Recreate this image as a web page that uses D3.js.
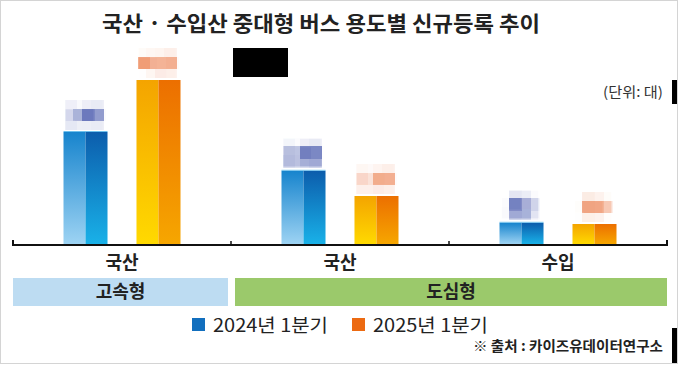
<!DOCTYPE html>
<html>
<head>
<meta charset="utf-8">
<script src="https://cdn.jsdelivr.net/npm/d3@7"></script>
<style>
  body { margin: 0; background: #fff; }
  svg { display: block; font-family: "Noto Sans CJK KR", "Noto Sans", sans-serif; }
</style>
</head>
<body>
<script>
// chart data
var categories = ["고속형-국산", "도심형-국산", "도심형-수입"];
var categoryLabels = ["국산", "국산", "수입"];
var segments = ["고속형", "도심형"];
var segmentFirst = ["고속형-국산", "도심형-국산"];
var segmentLast = ["고속형-국산", "도심형-수입"];
var seriesNames = ["2024년 1분기", "2025년 1분기"];
var values2024 = [280, 183, 53];
var values2025 = [410, 120, 50];

var w = 680;
var h = 365;

var svg = d3.select("body")
            .append("svg")
            .attr("width", w)
            .attr("height", h);

var defs = svg.append("defs");

function gradient(id, top, bottom) {
  var g = defs.append("linearGradient")
    .attr("id", id)
    .attr("x1", 0).attr("y1", 0)
    .attr("x2", 0).attr("y2", 1);
  g.append("stop").attr("offset", "0%").attr("stop-color", top);
  g.append("stop").attr("offset", "100%").attr("stop-color", bottom);
}
gradient("blueL", "#1784cd", "#9dd3f3");
gradient("blueR", "#0c5dac", "#19b1e8");
gradient("orangeL", "#f4a400", "#ffd900");
gradient("orangeR", "#ec6f00", "#f6a600");

// mosaic effect for the value labels (10px cells)
var pix = defs.append("filter")
  .attr("id", "pixelate")
  .attr("filterUnits", "userSpaceOnUse")
  .attr("primitiveUnits", "userSpaceOnUse")
  .attr("x", -20).attr("y", -15).attr("width", 40).attr("height", 30);
pix.append("feGaussianBlur").attr("in", "SourceGraphic").attr("stdDeviation", 2.2).attr("result", "b");
pix.append("feFlood").attr("x", -16).attr("y", -11).attr("width", 2).attr("height", 2).attr("flood-color", "#000");
pix.append("feComposite").attr("x", -20).attr("y", -15).attr("width", 10).attr("height", 10);
pix.append("feTile").attr("result", "a");
pix.append("feComposite").attr("in", "b").attr("in2", "a").attr("operator", "in");
pix.append("feMorphology").attr("operator", "dilate").attr("radius", 5).attr("result", "m");
var ct = pix.append("feComponentTransfer").attr("in", "m");
ct.append("feFuncA").attr("type", "linear").attr("slope", 1.5);

var series = [
  { name: seriesNames[0], values: values2024, left: "url(#blueL)", right: "url(#blueR)", swatch: "#126fbe", label: "#5868b4" },
  { name: seriesNames[1], values: values2025, left: "url(#orangeL)", right: "url(#orangeR)", swatch: "#ec6a12", label: "#ec8658" }
];

var x0 = d3.scaleBand()
  .domain(categories)
  .range([13, 667]);

var x1 = d3.scaleBand()
  .domain(seriesNames)
  .range([x0.bandwidth() / 2 - 58.5, x0.bandwidth() / 2 + 58.5])
  .paddingInner(0.397);

var y = d3.scaleLinear()
  .domain([0, 500])
  .range([244, 44]);

// frame
svg.append("rect")
  .attr("x", 0.5).attr("y", 0.5)
  .attr("width", 677).attr("height", 363)
  .attr("fill", "none")
  .attr("stroke", "#d4d4d4");

// title
svg.append("text")
  .attr("x", 321)
  .attr("y", 31)
  .attr("text-anchor", "middle")
  .attr("font-size", "21px")
  .attr("font-weight", 700)
  .attr("fill", "#222")
  .attr("textLength", 438)
  .attr("lengthAdjust", "spacingAndGlyphs")
  .text("국산 · 수입산 중대형 버스 용도별 신규등록 추이");

svg.append("rect")
  .attr("x", 233).attr("y", 48)
  .attr("width", 55).attr("height", 29)
  .attr("fill", "#000");

svg.append("text")
  .attr("x", 663)
  .attr("y", 97)
  .attr("text-anchor", "end")
  .attr("font-size", "14px")
  .attr("fill", "#333")
  .attr("textLength", 60)
  .attr("lengthAdjust", "spacingAndGlyphs")
  .text("(단위: 대)");

svg.append("rect").attr("x", 672).attr("y", 80).attr("width", 5).attr("height", 24).attr("fill", "#000");
svg.append("rect").attr("x", 672).attr("y", 328).attr("width", 5).attr("height", 35).attr("fill", "#000");

// bars
var groups = svg.selectAll("g.cat")
  .data(categories)
  .enter()
  .append("g")
  .attr("class", "cat")
  .attr("transform", function(d) { return "translate(" + x0(d) + ",0)"; });

groups.each(function(c, ci) {
  var g = d3.select(this);
  series.forEach(function(s) {
    var v = s.values[ci];
    var bx = x1(s.name);
    var bw = x1.bandwidth();
    g.append("rect")
      .attr("x", bx).attr("y", y(v))
      .attr("width", bw / 2).attr("height", y(0) - y(v))
      .attr("fill", s.left);
    g.append("rect")
      .attr("x", bx + bw / 2).attr("y", y(v))
      .attr("width", bw / 2).attr("height", y(0) - y(v))
      .attr("fill", s.right);
    if (s === series[0]) {
      g.append("rect")
        .attr("x", bx).attr("y", y(v) - 1)
        .attr("width", bw).attr("height", 1)
        .attr("fill", "#6fc0ec");
    }
    g.append("g")
      .attr("transform", "translate(" + (bx + bw / 2) + "," + (y(v) - 17) + ")")
      .append("text")
      .attr("x", 0).attr("y", 7)
      .attr("text-anchor", "middle")
      .attr("font-size", "19px")
      .attr("font-weight", 700)
      .attr("fill", s.label)
      .attr("filter", "url(#pixelate)")
      .text(v);
  });
});

// baseline with end ticks
var edges = categories.map(function(d) { return x0(d); }).concat([x0.range()[1]]);
svg.append("path")
  .attr("d", "M" + edges[0] + "," + (y(0) - 4) + "V" + (y(0) + 1) + "H" + edges[edges.length - 1] + "V" + (y(0) - 4))
  .attr("fill", "none")
  .attr("stroke", "#111")
  .attr("stroke-width", 2);
svg.selectAll("line.tick")
  .data(edges.slice(1, -1))
  .enter()
  .append("line")
  .attr("x1", function(d) { return d; }).attr("x2", function(d) { return d; })
  .attr("y1", y(0) - 3).attr("y2", y(0) + 1)
  .attr("stroke", "#111")
  .attr("stroke-width", 1.5);

// category labels
svg.selectAll("text.cat")
  .data(categories)
  .enter()
  .append("text")
  .attr("x", function(d) { return x0(d) + x0.bandwidth() / 2; })
  .attr("y", 269)
  .attr("text-anchor", "middle")
  .attr("font-size", "18px")
  .attr("font-weight", 700)
  .attr("fill", "#222")
  .text(function(d, i) { return categoryLabels[i]; });

// segment bands
var segColors = ["#bddcf2", "#9bc96b"];
segments.forEach(function(s, i) {
  var left = x0(segmentFirst[i]) + (i > 0 ? 4 : 0);
  var right = x0(segmentLast[i]) + x0.bandwidth() - (i < segments.length - 1 ? 3 : 0);
  svg.append("rect")
    .attr("x", left).attr("y", 278)
    .attr("width", right - left).attr("height", 28)
    .attr("fill", segColors[i]);
  svg.append("text")
    .attr("x", (left + right) / 2)
    .attr("y", 298)
    .attr("text-anchor", "middle")
    .attr("font-size", "18px")
    .attr("font-weight", 700)
    .attr("fill", "#222")
    .text(s);
});

// legend
var legendX = [192, 352];
series.forEach(function(s, i) {
  svg.append("rect")
    .attr("x", legendX[i]).attr("y", 318)
    .attr("width", 13).attr("height", 13)
    .attr("fill", s.swatch);
  svg.append("text")
    .attr("x", legendX[i] + 21)
    .attr("y", 332)
    .attr("font-size", "18px")
    .attr("fill", "#222")
    .attr("textLength", 115)
    .attr("lengthAdjust", "spacingAndGlyphs")
    .text(s.name);
});

svg.append("text")
  .attr("x", 663)
  .attr("y", 351)
  .attr("text-anchor", "end")
  .attr("font-size", "14px")
  .attr("font-weight", 700)
  .attr("fill", "#222")
  .attr("textLength", 190)
  .attr("lengthAdjust", "spacingAndGlyphs")
  .text("※ 출처 : 카이즈유데이터연구소");
</script>
</body>
</html>
